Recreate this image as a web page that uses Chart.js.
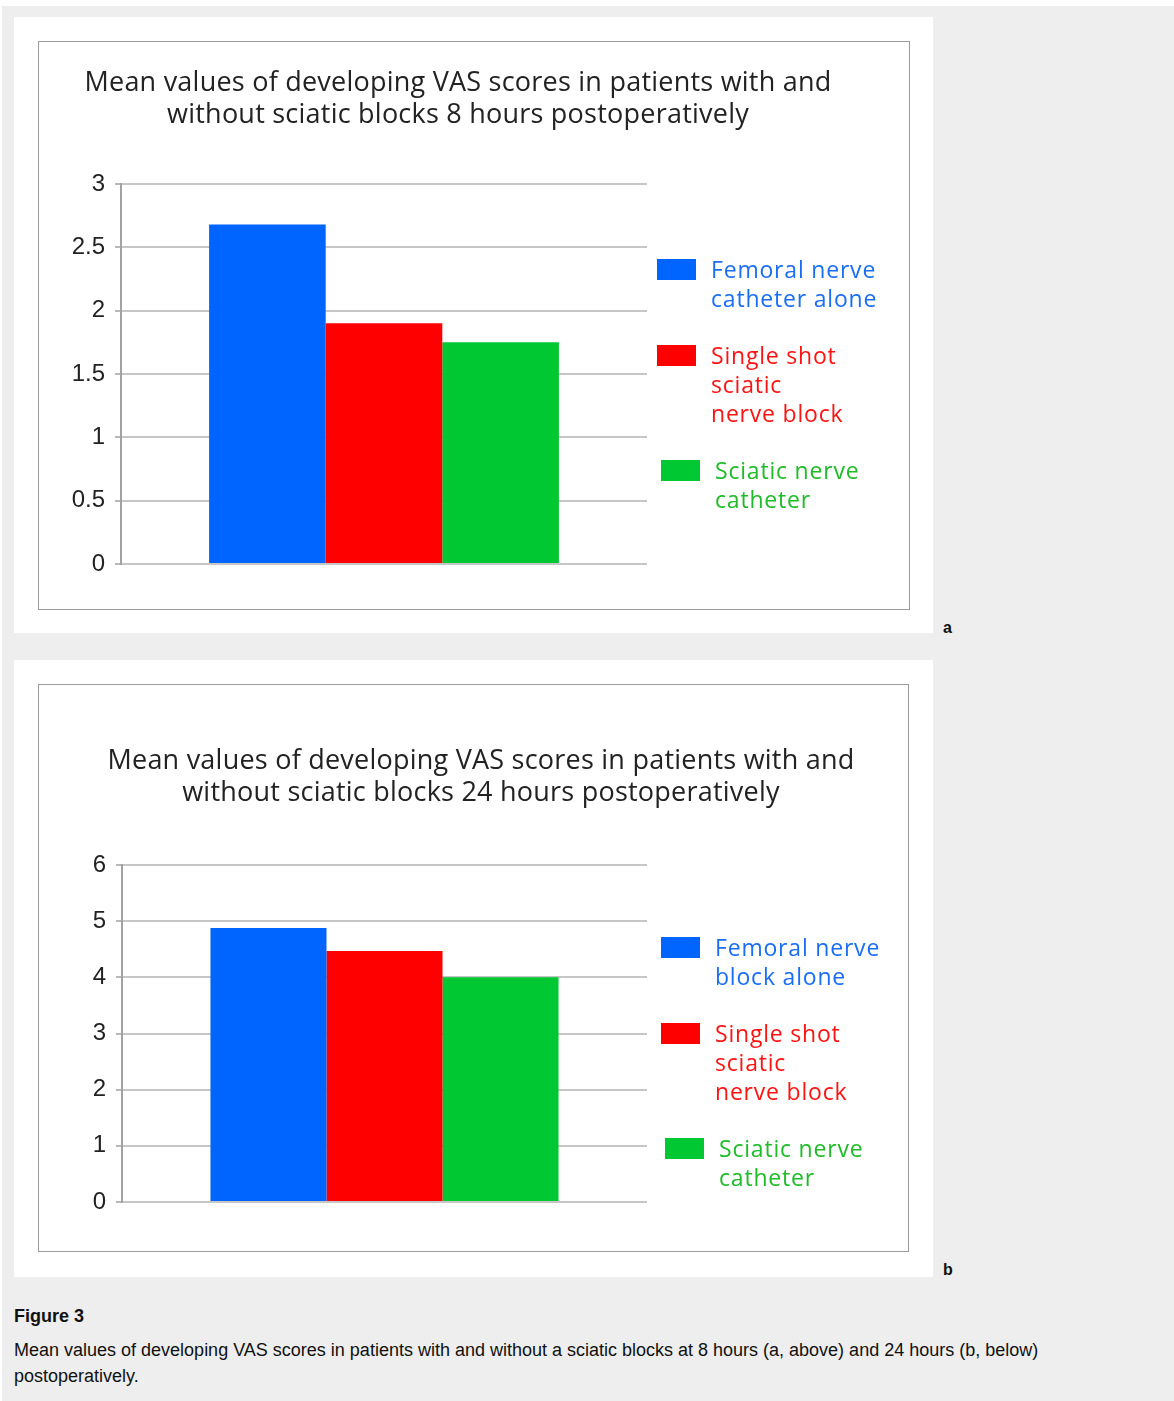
<!DOCTYPE html>
<html>
<head>
<meta charset="utf-8">
<script src="https://cdn.jsdelivr.net/npm/chart.js@4.4.0/dist/chart.umd.min.js"></script>
<style>
  body { margin: 0; width: 1174px; height: 1401px; position: relative; overflow: hidden; background: #fff;
         font-family: "Liberation Sans", Arial, sans-serif; }
  #page { position: absolute; left: 2px; top: 6px; width: 1172px; height: 1395px; background: #eeeeee; }
  .panel { position: absolute; left: 14px; width: 919px; background: #fff; }
  .box { position: absolute; border: 1px solid #9a9a9a; box-sizing: border-box; }
  .box canvas { position: absolute; left: 0; top: 0; }
  .title { position: absolute; transform: translateX(-50%); text-align: center; white-space: nowrap;
           font-family: "Open Sans", sans-serif; font-size: 27px; letter-spacing: 0.23px; line-height: 32px; color: #222; }
  .legend { position: absolute; font-family: "Open Sans", sans-serif; font-size: 23px; letter-spacing: 0.8px; line-height: 29px; }
  .item { position: relative; padding-left: 54px; margin-bottom: 28px; white-space: nowrap; }
  .swatch { position: absolute; left: 0; top: 4px; width: 39px; height: 21px; }
  .tag { position: absolute; font-weight: bold; font-size: 16px; line-height: 18px; color: #111; }
  .figlabel { position: absolute; left: 14px; top: 1306px; font-weight: bold; font-size: 18px; line-height: 20px; color: #111; }
  .caption { position: absolute; left: 14px; top: 1337px; font-size: 18px; line-height: 26px; color: #111; }
</style>
</head>
<body>
<div id="page"></div>

<div class="panel" style="top:17px;height:616px;"></div>
<div class="box" style="left:38px;top:41px;width:872px;height:569px;">
  <canvas id="chart8" width="870" height="567"></canvas>
</div>
<div class="title" id="title8" style="left:458px;top:65px;"></div>
<div class="legend" id="legend8" style="left:657px;top:255px;"></div>
<div class="tag" style="left:943px;top:619px;">a</div>

<div class="panel" style="top:660px;height:617px;"></div>
<div class="box" style="left:38px;top:684px;width:871px;height:568px;">
  <canvas id="chart24" width="869" height="566"></canvas>
</div>
<div class="title" id="title24" style="left:481px;top:743px;"></div>
<div class="legend" id="legend24" style="left:661px;top:933px;"></div>
<div class="tag" style="left:943px;top:1261px;">b</div>

<div class="figlabel">Figure 3</div>
<div class="caption">Mean values of developing VAS scores in patients with and without a sciatic blocks at 8 hours (a, above) and 24 hours (b, below)<br>postoperatively.</div>

<script>
// Chart titles (one entry per line)
const title8 = ['Mean values of developing VAS scores in patients with and',
                'without sciatic blocks 8 hours postoperatively'];
const title24 = ['Mean values of developing VAS scores in patients with and',
                 'without sciatic blocks 24 hours postoperatively'];

// One unnamed category; each group is one bar
const categories = [''];

// Series names, split into the lines they are printed on
const series8 = [['Femoral nerve', 'catheter alone'],
                 ['Single shot', 'sciatic', 'nerve block'],
                 ['Sciatic nerve', 'catheter']];
const series24 = [['Femoral nerve', 'block alone'],
                  ['Single shot', 'sciatic', 'nerve block'],
                  ['Sciatic nerve', 'catheter']];

// Mean VAS scores
const vas8h = [2.68, 1.90, 1.75];
const vas24h = [4.88, 4.47, 4.00];

// Value axis ticks
const ticks8h = [0, 0.5, 1, 1.5, 2, 2.5, 3];
const ticks24h = [0, 1, 2, 3, 4, 5, 6];

// Colours
const barColors = ['#0064ff', '#ff0000', '#00c832'];
const textColors = ['#1a6ef6', '#ff1212', '#20bb28'];

function fillTitle(id, lines) {
  document.getElementById(id).innerHTML = lines.join('<br>');
}

function fillLegend(id, names, shifts) {
  const el = document.getElementById(id);
  names.forEach((lines, i) => {
    const item = document.createElement('div');
    item.className = 'item';
    item.style.color = textColors[i];
    item.style.marginLeft = (shifts[i] || 0) + 'px';
    const sw = document.createElement('div');
    sw.className = 'swatch';
    sw.style.background = barColors[i];
    item.appendChild(sw);
    const txt = document.createElement('div');
    txt.innerHTML = lines.join('<br>');
    item.appendChild(txt);
    el.appendChild(item);
  });
}

function drawChart(id, names, values, ticks, geo) {
  const datasets = names.map((n, i) => ({
    label: n.join(' '),
    data: [values[i]],
    backgroundColor: barColors[i],
    borderWidth: 0,
    barPercentage: 1,
    categoryPercentage: geo.groupShare
  }));
  new Chart(document.getElementById(id), {
    type: 'bar',
    data: { labels: categories, datasets },
    options: {
      responsive: false,
      animation: false,
      devicePixelRatio: 1,
      layout: { padding: { left: 0, right: geo.right, top: geo.top, bottom: geo.bottom } },
      plugins: { legend: { display: false }, title: { display: false }, tooltip: { enabled: false } },
      scales: {
        x: { display: false },
        y: {
          min: ticks[0],
          max: ticks[ticks.length - 1],
          afterBuildTicks: (scale) => { scale.ticks = ticks.map(v => ({ value: v })); },
          afterFit: (scale) => { scale.width = geo.axisX; },
          ticks: {
            color: '#222',
            padding: 10,
            font: { family: 'Liberation Sans', size: 24 },
            callback: (v) => String(v)
          },
          grid: { color: '#c6c6c6', lineWidth: 2, tickLength: 6, tickColor: '#b8b8b8' },
          border: { color: '#a2a2a2', width: 2 }
        }
      }
    }
  });
}

fillTitle('title8', title8);
fillTitle('title24', title24);
fillLegend('legend8', series8, [0, 0, 4]);
fillLegend('legend24', series24, [0, 0, 4]);

drawChart('chart8', series8, vas8h, ticks8h, { axisX: 82, right: 262, top: 142, bottom: 45, groupShare: 0.665 });
drawChart('chart24', series24, vas24h, ticks24h, { axisX: 83, right: 261, top: 180, bottom: 49, groupShare: 0.663 });
</script>
</body>
</html>
